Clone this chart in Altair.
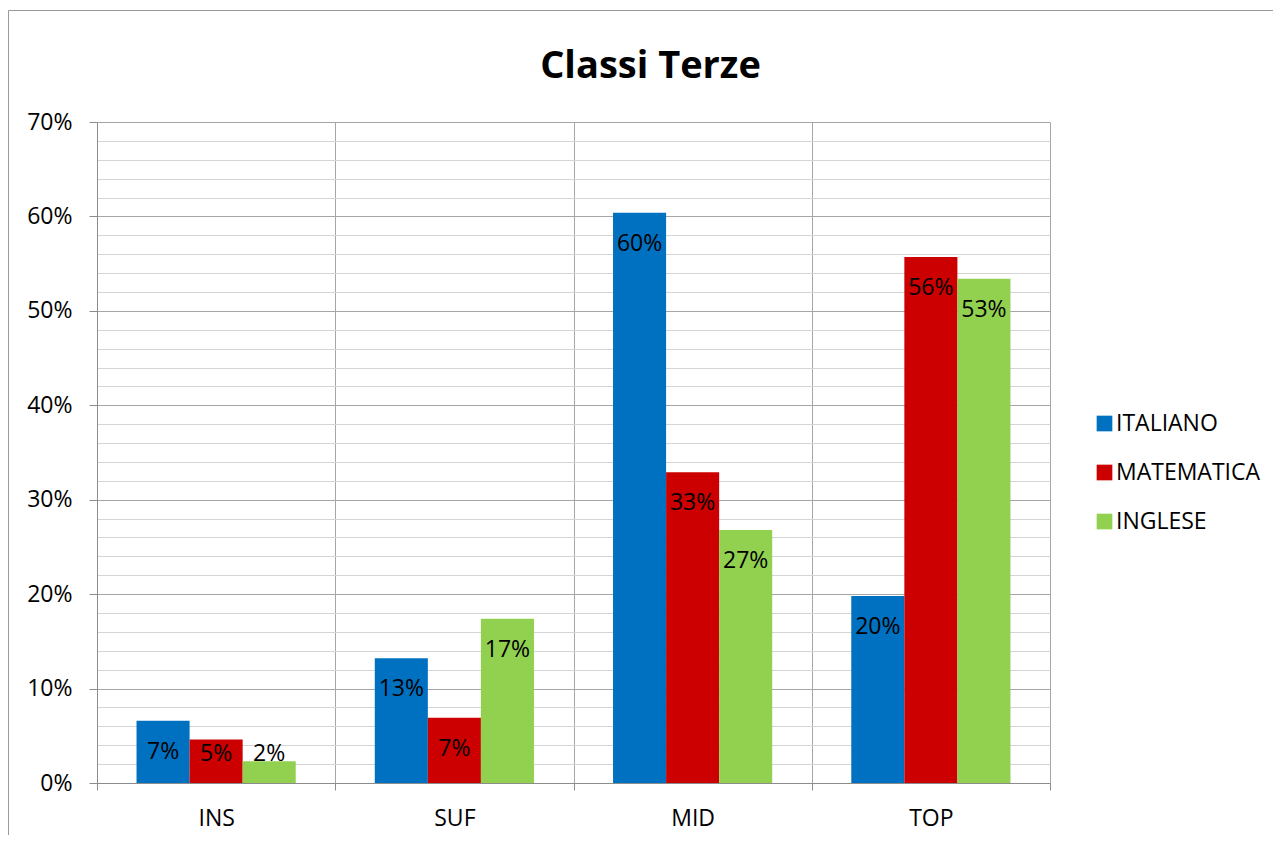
import altair as alt
import pandas as pd

categories = ["INS", "SUF", "MID", "TOP"]
series = ["ITALIANO", "MATEMATICA", "INGLESE"]
italiano = [0.066, 0.132, 0.604, 0.198]
matematica = [0.046, 0.069, 0.329, 0.557]
inglese = [0.023, 0.174, 0.268, 0.534]
colors = ["#0070C0", "#CC0000", "#92D050"]
y_ticks = [i / 100 for i in range(0, 71, 2)]

rows = []
for s, vals in zip(series, [italiano, matematica, inglese]):
    for c, v in zip(categories, vals):
        rows.append({"cat": c, "serie": s, "val": v})
df = pd.DataFrame(rows)

FONT = "Open Sans"
FS = 23
major = "round(datum.value*100) % 10 === 0"

x_enc = alt.X(
    "cat:N",
    sort=categories,
    title=None,
    scale=alt.Scale(paddingInner=0, paddingOuter=0),
    axis=alt.Axis(
        tickBand="extent",
        grid=True,
        gridColor="#a6a6a6",
        domainColor="#8c8c8c",
        tickColor="#8c8c8c",
        tickSize=7,
        labelPadding=17,
        labelAngle=0,
        labelFont=FONT,
        labelFontSize=FS,
        labelColor="#000000",
    ),
)
xo_enc = alt.XOffset(
    "serie:N", sort=series, scale=alt.Scale(paddingOuter=0.745, paddingInner=0)
)
y_scale = alt.Scale(domain=[0, 0.7], nice=False)
y_axis = alt.Axis(
    values=y_ticks,
    format=".0%",
    labelExpr=major + " ? datum.label : ''",
    grid=True,
    gridColor=alt.condition(major, alt.value("#a6a6a6"), alt.value("#d4d4d4")),
    tickOpacity=alt.condition(major, alt.value(1), alt.value(0)),
    tickColor="#8c8c8c",
    domainColor="#8c8c8c",
    tickSize=8,
    labelPadding=17,
    labelFont=FONT,
    labelFontSize=FS,
    labelColor="#000000",
)

base = alt.Chart(df)

bars = base.mark_bar().encode(
    x=x_enc,
    xOffset=xo_enc,
    y=alt.Y("val:Q", scale=y_scale, axis=y_axis, title=None),
    color=alt.Color(
        "serie:N",
        sort=series,
        scale=alt.Scale(domain=series, range=colors),
        legend=alt.Legend(
            title=None,
            orient="none",
            legendX=996,
            legendY=290,
            padding=0,
            symbolType="square",
            symbolSize=246,
            symbolStrokeWidth=0,
            symbolOpacity=1,
            labelFont=FONT,
            labelFontSize=FS,
            labelColor="#000000",
            labelOffset=0,
            rowPadding=25,
            labelLimit=400,
        ),
    ),
)

labels = base.transform_calculate(pos="max(datum.val, 0.0636)").mark_text(
    dy=31, fontSize=FS, font=FONT, color="#000000", baseline="middle"
).encode(
    x=x_enc,
    xOffset=xo_enc,
    y=alt.Y("pos:Q", scale=y_scale, axis=y_axis, title=None),
    text=alt.Text("val:Q", format=".0%"),
)

frame = alt.Chart(alt.Data(values=[{}])).mark_rect(
    fill=None, stroke="#9a9a9a", strokeWidth=1, clip=False
).encode(
    x=alt.value(-88.5), y=alt.value(-111.5), x2=alt.value(1300), y2=alt.value(900)
)

chart = alt.layer(bars, labels, frame).properties(
    width=953,
    height=661,
    padding={"left": 89, "top": 114, "right": 223, "bottom": 52},
    autosize=alt.AutoSizeParams(type="none"),
    title=alt.Title(
        "Classi Terze",
        font=FONT,
        fontSize=38,
        fontWeight="bold",
        color="#000000",
        anchor="middle",
        frame="group",
        baseline="alphabetic",
        dx=77,
        offset=-106,
    ),
).configure_view(stroke=None)

chart.save("out.html", embed_options={"renderer": "svg", "actions": False})
